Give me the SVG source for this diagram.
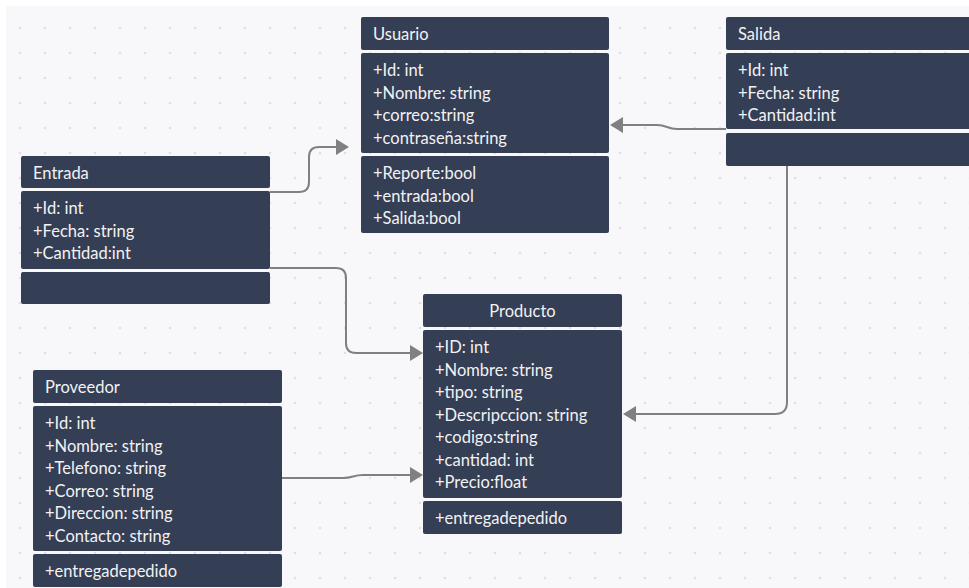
<svg xmlns="http://www.w3.org/2000/svg" width="969" height="588" viewBox="0 0 969 588">
<defs>
<style>
.box{fill:#343e55;}
.t{font-family:Lato,"Open Sans","Liberation Sans",sans-serif;font-size:16.5px;fill:#f2f2f2;}
.c{fill:none;stroke:#808080;stroke-width:2;}
</style>
<pattern id="dots" patternUnits="userSpaceOnUse" width="25" height="25">
<circle cx="20" cy="3" r="1.3" fill="#e0e0e4"/>
</pattern>
<marker id="arr" viewBox="0 0 13 16" refX="0" refY="8" markerWidth="13" markerHeight="16" markerUnits="userSpaceOnUse" orient="auto">
<path d="M0,0 L13,8 L0,16 Z" fill="#808080"/>
</marker>
</defs>
<rect x="0" y="0" width="969" height="588" fill="#ffffff"/>
<rect x="6" y="6" width="963" height="582" fill="#f8f8fa"/>
<rect x="6" y="6" width="963" height="582" fill="url(#dots)"/>

<g id="connectors">
<path class="c" marker-end="url(#arr)" d="M726,129 L677,129 C667,129 667,125 657,125 L623,125"/>
<path class="c" marker-end="url(#arr)" d="M270,192 L299,192 Q309,192 309,182 L309,157 Q309,147 319,147 L336,147"/>
<path class="c" marker-end="url(#arr)" d="M270,268 L336,268 Q346,268 346,278 L346,343 Q346,353 356,353 L410,353"/>
<path class="c" marker-end="url(#arr)" d="M787,166 L787,402 Q787,414 775,414 L636,414"/>
<path class="c" marker-end="url(#arr)" d="M282,478 L343,478 C353,478 353,475 363,475 L410,475"/>
</g>

<g id="usuario">
<rect class="box" x="361" y="17" width="248" height="33" rx="2"/>
<rect class="box" x="361" y="53" width="248" height="100" rx="2"/>
<rect class="box" x="361" y="156" width="248" height="77" rx="2"/>
<text class="t" x="373" y="40">Usuario</text>
<text class="t" x="373" y="76">+Id: int</text>
<text class="t" x="373" y="98.5">+Nombre: string</text>
<text class="t" x="373" y="121">+correo:string</text>
<text class="t" x="373" y="143.5">+contraseña:string</text>
<text class="t" x="373" y="179">+Reporte:bool</text>
<text class="t" x="373" y="201.5">+entrada:bool</text>
<text class="t" x="373" y="224">+Salida:bool</text>
</g>

<g id="salida">
<rect class="box" x="726" y="17" width="260" height="33" rx="2"/>
<rect class="box" x="726" y="53" width="260" height="76" rx="2"/>
<rect class="box" x="726" y="133" width="260" height="33" rx="2"/>
<text class="t" x="738" y="40">Salida</text>
<text class="t" x="738" y="76">+Id: int</text>
<text class="t" x="738" y="98.5">+Fecha: string</text>
<text class="t" x="738" y="121">+Cantidad:int</text>
</g>

<g id="entrada">
<rect class="box" x="21" y="156" width="249" height="32" rx="2"/>
<rect class="box" x="21" y="191" width="249" height="78" rx="2"/>
<rect class="box" x="21" y="272" width="249" height="32" rx="2"/>
<text class="t" x="33" y="179">Entrada</text>
<text class="t" x="33" y="214">+Id: int</text>
<text class="t" x="33" y="236.5">+Fecha: string</text>
<text class="t" x="33" y="259">+Cantidad:int</text>
</g>

<g id="producto">
<rect class="box" x="423" y="294" width="199" height="33" rx="2"/>
<rect class="box" x="423" y="330" width="199" height="168" rx="2"/>
<rect class="box" x="423" y="501" width="199" height="33" rx="2"/>
<text class="t" x="522.5" y="317" text-anchor="middle">Producto</text>
<text class="t" x="435" y="353">+ID: int</text>
<text class="t" x="435" y="375.5">+Nombre: string</text>
<text class="t" x="435" y="398">+tipo: string</text>
<text class="t" x="435" y="420.5">+Descripccion: string</text>
<text class="t" x="435" y="443">+codigo:string</text>
<text class="t" x="435" y="465.5">+cantidad: int</text>
<text class="t" x="435" y="488">+Precio:float</text>
<text class="t" x="435" y="524">+entregadepedido</text>
</g>

<g id="proveedor">
<rect class="box" x="33" y="370" width="249" height="33" rx="2"/>
<rect class="box" x="33" y="406" width="249" height="145" rx="2"/>
<rect class="box" x="33" y="554" width="249" height="33" rx="2"/>
<text class="t" x="45" y="393">Proveedor</text>
<text class="t" x="45" y="429">+Id: int</text>
<text class="t" x="45" y="451.5">+Nombre: string</text>
<text class="t" x="45" y="474">+Telefono: string</text>
<text class="t" x="45" y="496.5">+Correo: string</text>
<text class="t" x="45" y="519">+Direccion: string</text>
<text class="t" x="45" y="541.5">+Contacto: string</text>
<text class="t" x="45" y="577">+entregadepedido</text>
</g>
</svg>
